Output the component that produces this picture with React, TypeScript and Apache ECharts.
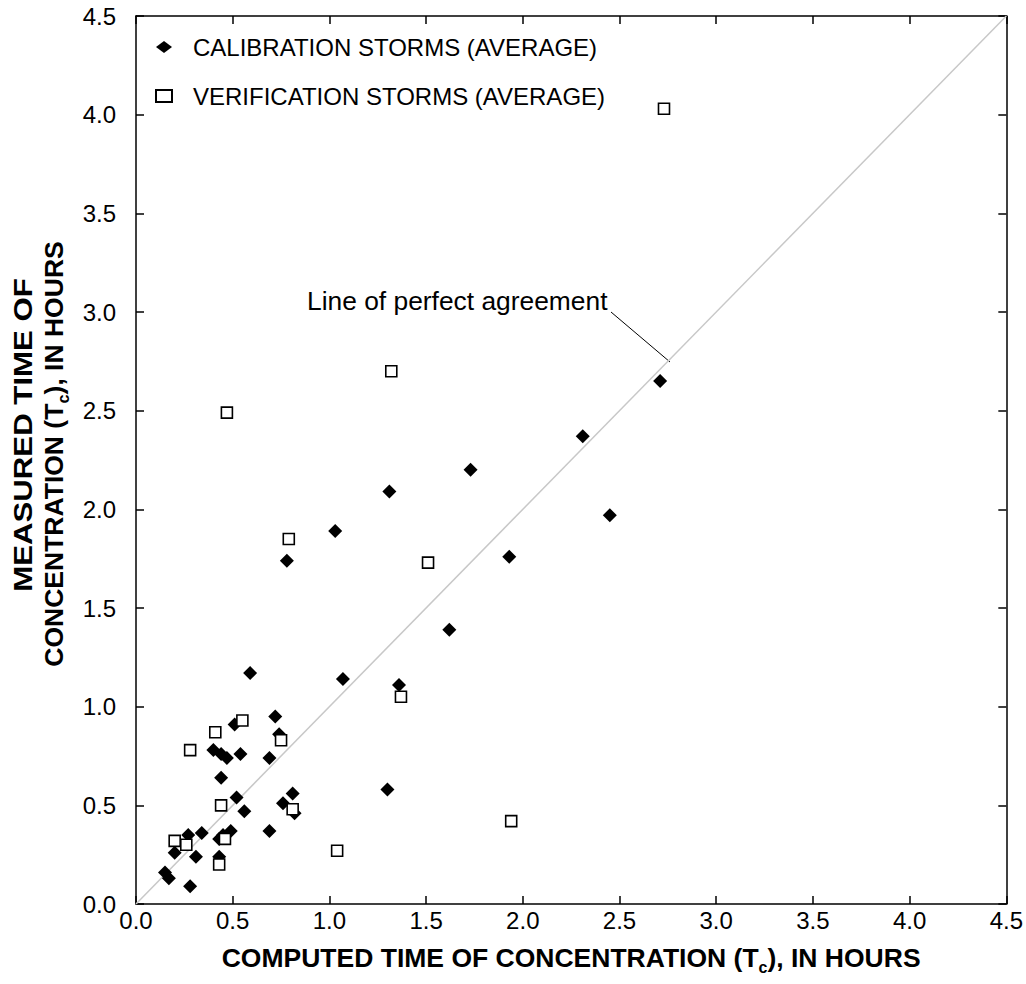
import React, { useEffect, useRef } from "react";
import * as echarts from "echarts";

const xTicks = { min: 0, max: 4.5, interval: 0.5 };
const yTicks = { min: 0, max: 4.5, interval: 0.5 };

const calibrationComputed = [2.71, 2.31, 1.73, 1.31, 2.45, 1.03, 1.93, 0.78, 1.62, 1.07, 1.36, 1.30, 0.59, 0.72, 0.51, 0.74, 0.40, 0.44, 0.47, 0.54, 0.69, 0.44, 0.52, 0.56, 0.81, 0.76, 0.82, 0.69, 0.49, 0.45, 0.43, 0.34, 0.27, 0.20, 0.31, 0.43, 0.15, 0.17, 0.28];
const calibrationMeasured = [2.65, 2.37, 2.20, 2.09, 1.97, 1.89, 1.76, 1.74, 1.39, 1.14, 1.11, 0.58, 1.17, 0.95, 0.91, 0.86, 0.78, 0.76, 0.74, 0.76, 0.74, 0.64, 0.54, 0.47, 0.56, 0.51, 0.46, 0.37, 0.37, 0.35, 0.33, 0.36, 0.35, 0.26, 0.24, 0.24, 0.16, 0.13, 0.09];

const verificationComputed = [2.73, 1.32, 0.47, 0.79, 1.51, 1.37, 1.94, 1.04, 0.55, 0.41, 0.28, 0.75, 0.44, 0.81, 0.46, 0.26, 0.20, 0.43];
const verificationMeasured = [4.03, 2.70, 2.49, 1.85, 1.73, 1.05, 0.42, 0.27, 0.93, 0.87, 0.78, 0.83, 0.50, 0.48, 0.33, 0.30, 0.32, 0.20];

const perfectLine = [[0, 0], [4.5, 4.5]];

const seriesNames = ["CALIBRATION STORMS (AVERAGE)", "VERIFICATION STORMS (AVERAGE)"];
const xTitle = "{b|COMPUTED TIME OF CONCENTRATION (T}{s|c}{b|), IN HOURS}";
const yTitle1 = "MEASURED TIME OF";
const yTitle2 = "{b|CONCENTRATION (T}{s|c}{b|), IN HOURS}";
const annotation = "Line of perfect agreement";

const FONT = "'Liberation Sans', Arial, Helvetica, sans-serif";

export default function App() {
  const ref = useRef<HTMLDivElement>(null);
  useEffect(() => {
    if (!ref.current) return;
    const chart = echarts.init(ref.current, undefined, { renderer: "svg" });
    const axisLine = { show: true, onZero: false, lineStyle: { color: "#000", width: 1.5 } };
    const axisTick = { show: true, inside: true, length: 8, lineStyle: { color: "#000", width: 1.5 } };
    const titleRich = (size: number) => ({
      b: { fontSize: size, fontWeight: "bold", fontFamily: FONT, color: "#000", fill: "#000", verticalAlign: "top", lineHeight: size },
      s: {
        fontSize: Math.round(size * 0.6),
        fontWeight: "bold",
        fontFamily: FONT,
        color: "#000",
        fill: "#000",
        verticalAlign: "top",
        lineHeight: Math.round(size * 0.6),
        padding: [Math.round(size * 0.55), 0, 0, 0],
      },
    });
    chart.setOption({
      animation: false,
      backgroundColor: "#fff",
      textStyle: { fontFamily: FONT, color: "#000" },
      grid: { left: 136, right: 19, top: 16, bottom: 80, containLabel: false },
      legend: {
        orient: "vertical",
        left: 150,
        top: 30,
        itemWidth: 16,
        itemHeight: 12,
        itemGap: 25,
        data: [
          { name: seriesNames[0], icon: "diamond" },
          { name: seriesNames[1], icon: "rect" },
        ],
        textStyle: { fontSize: 24, color: "#000", fontFamily: FONT, padding: [0, 0, 0, 16] },
      },
      xAxis: [
        {
          type: "value",
          position: "bottom",
          ...xTicks,
          axisLine,
          axisTick,
          splitLine: { show: false },
          axisLabel: { fontSize: 24, color: "#000", margin: 4, fontFamily: FONT, formatter: (v: number) => v.toFixed(1) },
          name: xTitle,
          nameLocation: "middle",
          nameGap: 40,
          nameTextStyle: { fontSize: 26.5, fontWeight: "bold", color: "#000", fontFamily: FONT, rich: titleRich(26.5) },
        },
        {
          type: "value",
          position: "top",
          ...xTicks,
          axisLine,
          axisTick,
          splitLine: { show: false },
          axisLabel: { show: false },
        },
      ],
      yAxis: [
        {
          type: "value",
          position: "left",
          ...yTicks,
          axisLine,
          axisTick,
          splitLine: { show: false },
          axisLabel: { fontSize: 24, color: "#000", margin: 20, fontFamily: FONT, formatter: (v: number) => v.toFixed(1) },
        },
        {
          type: "value",
          position: "right",
          ...yTicks,
          axisLine,
          axisTick,
          splitLine: { show: false },
          axisLabel: { show: false },
        },
      ],
      series: [
        {
          type: "line",
          data: perfectLine,
          symbol: "none",
          silent: true,
          lineStyle: { color: "#c8c8c8", width: 1.5 },
          z: 1,
        },
        {
          name: seriesNames[0],
          type: "scatter",
          symbol: "diamond",
          symbolSize: 14,
          itemStyle: { color: "#000", opacity: 1 },
          data: calibrationComputed.map((x, i) => [x, calibrationMeasured[i]]),
          z: 2,
        },
        {
          name: seriesNames[1],
          type: "scatter",
          symbol: "rect",
          symbolSize: 11,
          itemStyle: { color: "#fff", borderColor: "#000", borderWidth: 1.6, opacity: 1 },
          data: verificationComputed.map((x, i) => [x, verificationMeasured[i]]),
          z: 3,
        },
      ],
      graphic: [
        {
          type: "text",
          x: 23,
          y: 435,
          rotation: Math.PI / 2,
          scaleX: 1.2,
          style: { text: yTitle1, fontSize: 26, fontWeight: "bold", fontFamily: FONT, fill: "#000", align: "center", verticalAlign: "middle" },
        },
        {
          type: "text",
          x: 54,
          y: 454,
          rotation: Math.PI / 2,
          scaleX: 1.02,
          style: {
            text: yTitle2,
            fontSize: 26,
            fontWeight: "bold",
            fontFamily: FONT,
            fill: "#000",
            align: "center",
            verticalAlign: "middle",
            rich: titleRich(26),
          },
        },
        {
          type: "text",
          x: 307,
          y: 301,
          scaleX: 1.055,
          style: { text: annotation, fontSize: 25, fontFamily: FONT, fill: "#000", align: "left", verticalAlign: "middle" },
        },
        {
          type: "line",
          shape: { x1: 611, y1: 312, x2: 670, y2: 362 },
          style: { stroke: "#000", lineWidth: 1 },
        },
      ],
    });
    return () => chart.dispose();
  }, []);
  return <div ref={ref} style={{ position: "absolute", left: 0, top: 0, width: 1026, height: 984 }} />;
}
